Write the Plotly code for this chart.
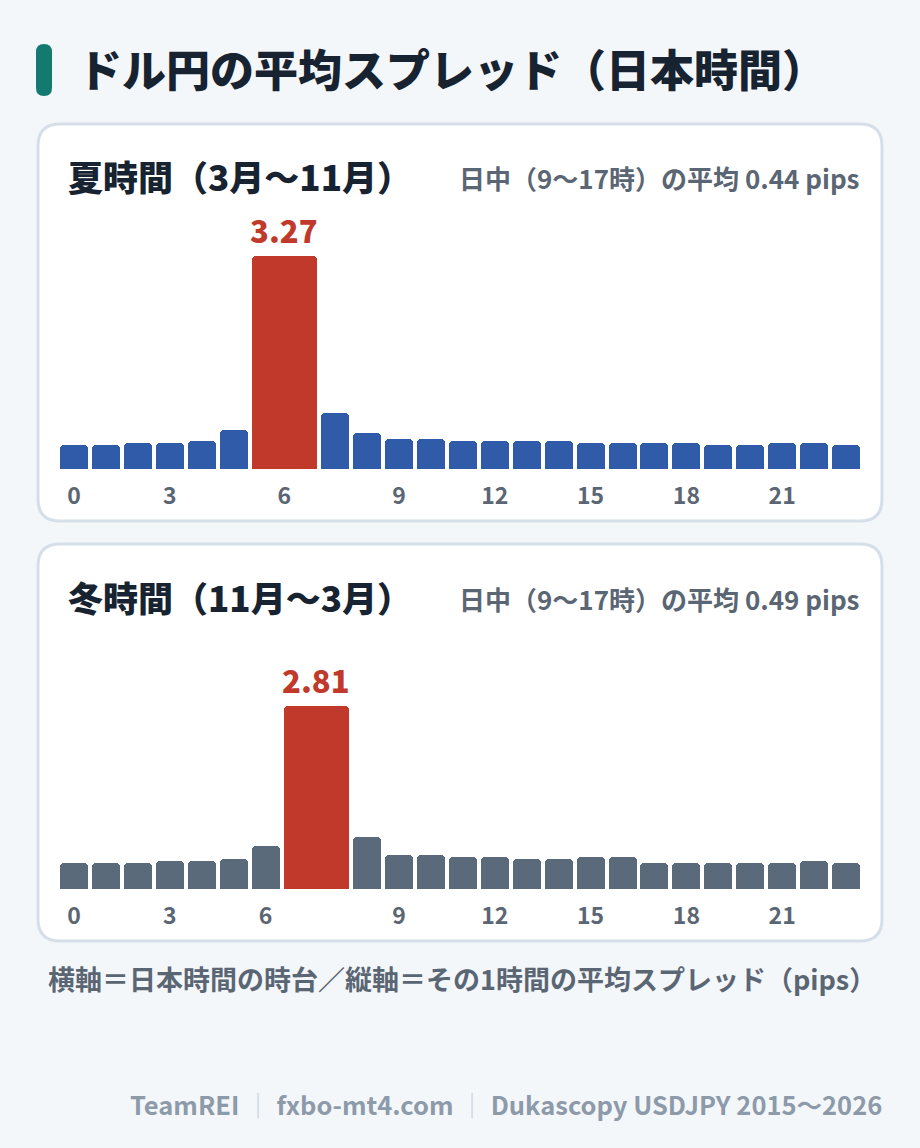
import plotly.graph_objects as go

# ---------------- data ----------------
hours = list(range(24))
summer_spread = [0.37, 0.37, 0.40, 0.40, 0.43, 0.61, 3.27, 0.86, 0.55, 0.46, 0.46, 0.43,
                 0.43, 0.43, 0.43, 0.40, 0.40, 0.40, 0.40, 0.37, 0.37, 0.40, 0.40, 0.37]
winter_spread = [0.40, 0.40, 0.40, 0.43, 0.43, 0.46, 0.67, 2.81, 0.80, 0.52, 0.52, 0.49,
                 0.49, 0.46, 0.46, 0.49, 0.49, 0.40, 0.40, 0.40, 0.40, 0.40, 0.43, 0.40]
summer_peak_hour = 6
winter_peak_hour = 7
tick_hours = [0, 3, 6, 9, 12, 15, 18, 21]
summer_title = "夏時間（3月〜11月）"
winter_title = "冬時間（11月〜3月）"
summer_day_avg = 0.44
winter_day_avg = 0.49

# ---------------- style ----------------
W, H = 920, 1148
FONT = "Noto Sans CJK JP"
BG = "#f4f7fa"
CARD_BORDER = "#d6dfe8"
DARK = "#172330"
GRAY = "#5b6674"
LIGHT = "#8d9aaa"
SEP = "#c9d3dd"
TEAL = "#127a6e"
RED = "#c0392b"
SUMMER_COLOR = "#2f5ba8"
WINTER_COLOR = "#5b6a7a"
PEAK_W = 2.35
GAP = 4 / 28
PX_PER_PIP = 65.4
Y_MAX = 3.6


def px(x):
    return x / W


def py(y):
    return 1 - y / H


def slots(peak):
    widths = [PEAK_W if h == peak else 1.0 for h in hours]
    centers = []
    pos = 0.0
    for w in widths:
        centers.append(pos + w / 2)
        pos += w + GAP
    return centers, widths, pos - GAP


def rounded_path(x0, y0, x1, y1, r):
    # pixel coords (y down) -> paper path
    rx, ry = r / W, r / H
    X0, X1 = px(x0), px(x1)
    Yt, Yb = py(y0), py(y1)
    return (f"M {X0+rx},{Yt} L {X1-rx},{Yt} Q {X1},{Yt} {X1},{Yt-ry} "
            f"L {X1},{Yb+ry} Q {X1},{Yb} {X1-rx},{Yb} L {X0+rx},{Yb} "
            f"Q {X0},{Yb} {X0},{Yb+ry} L {X0},{Yt-ry} Q {X0},{Yt} {X0+rx},{Yt} Z")


fig = go.Figure()
shapes = []
annotations = []

panels = [
    dict(vals=summer_spread, peak=summer_peak_hour, color=SUMMER_COLOR, title=summer_title,
         avg=summer_day_avg, card_top=124, xa="x", ya="y", xname="xaxis", yname="yaxis"),
    dict(vals=winter_spread, peak=winter_peak_hour, color=WINTER_COLOR, title=winter_title,
         avg=winter_day_avg, card_top=544, xa="x2", ya="y2", xname="xaxis2", yname="yaxis2"),
]

for p in panels:
    centers, widths, total = slots(p["peak"])
    colors = [RED if h == p["peak"] else p["color"] for h in hours]
    fig.add_trace(go.Bar(
        x=centers, y=p["vals"], width=widths,
        marker=dict(color=colors, cornerradius=5, line=dict(width=0)),
        xaxis=p["xa"], yaxis=p["ya"], hoverinfo="skip", showlegend=False,
    ))
    ct = p["card_top"]
    baseline = ct + 345
    top = baseline - Y_MAX * PX_PER_PIP
    fig.layout[p["xname"]] = dict(
        domain=[px(60), px(860)], range=[0, total], anchor=p["ya"],
        tickvals=[centers[h] for h in tick_hours], ticktext=[str(h) for h in tick_hours],
        tickfont=dict(family=FONT, size=23, color=GRAY, weight=700),
        showgrid=False, zeroline=False, showline=False, ticks="",
        ticklabelstandoff=11, fixedrange=True,
    )
    fig.layout[p["yname"]] = dict(
        domain=[py(baseline), py(top)], range=[0, Y_MAX], anchor=p["xa"],
        visible=False, showgrid=False, fixedrange=True,
    )
    # card
    shapes.append(dict(type="path", path=rounded_path(38, ct, 882, ct + 397, 22),
                       xref="paper", yref="paper", fillcolor="white",
                       line=dict(color=CARD_BORDER, width=3), layer="below"))
    # panel title
    annotations.append(dict(x=px(66), y=py(ct + 52), xref="paper", yref="paper",
                            text=p["title"], showarrow=False, xanchor="left", yanchor="middle",
                            font=dict(family=FONT, size=35, color=DARK, weight=900)))
    annotations.append(dict(x=px(861), y=py(ct + 54), xref="paper", yref="paper",
                            text=f"日中（9〜17時）の平均 {p['avg']:.2f} pips", showarrow=False,
                            xanchor="right", yanchor="middle",
                            font=dict(family=FONT, size=26, color=GRAY, weight=700)))
    # peak label
    annotations.append(dict(x=centers[p["peak"]], y=p["vals"][p["peak"]], xref=p["xa"], yref=p["ya"],
                            text=f"{p['vals'][p['peak']]:.2f}", showarrow=False,
                            xanchor="center", yanchor="bottom", yshift=1,
                            font=dict(family=FONT, size=31, color=RED, weight=900)))

# title bar
shapes.append(dict(type="path", path=rounded_path(36, 44, 52, 96, 8), xref="paper", yref="paper",
                   fillcolor=TEAL, line=dict(width=0)))
annotations.append(dict(x=px(76), y=py(68), xref="paper", yref="paper",
                        text="ドル円の平均スプレッド（日本時間）", showarrow=False,
                        xanchor="left", yanchor="middle",
                        font=dict(family=FONT, size=44, color=DARK, weight=900)))
annotations.append(dict(x=px(46), y=py(978), xref="paper", yref="paper",
                        text="横軸＝日本時間の時台／縦軸＝その1時間の平均スプレッド（pips）",
                        showarrow=False, xanchor="left", yanchor="middle",
                        font=dict(family=FONT, size=27, color=GRAY, weight=700)))
sep = f"<span style='color:{SEP}'> ｜ </span>"
annotations.append(dict(x=px(884), y=py(1103), xref="paper", yref="paper",
                        text=f"TeamREI{sep}fxbo-mt4.com{sep}Dukascopy USDJPY 2015〜2026",
                        showarrow=False, xanchor="right", yanchor="middle",
                        font=dict(family=FONT, size=25.5, color=LIGHT, weight=700)))

fig.update_layout(
    width=W, height=H, margin=dict(l=0, r=0, t=0, b=0),
    paper_bgcolor=BG, plot_bgcolor="rgba(0,0,0,0)",
    shapes=shapes, annotations=annotations, bargap=0,
)

fig.write_html(
    "out.html",
    config={"displayModeBar": False},
    post_script=f"document.body.style.margin='0';document.body.style.background='{BG}';",
)
